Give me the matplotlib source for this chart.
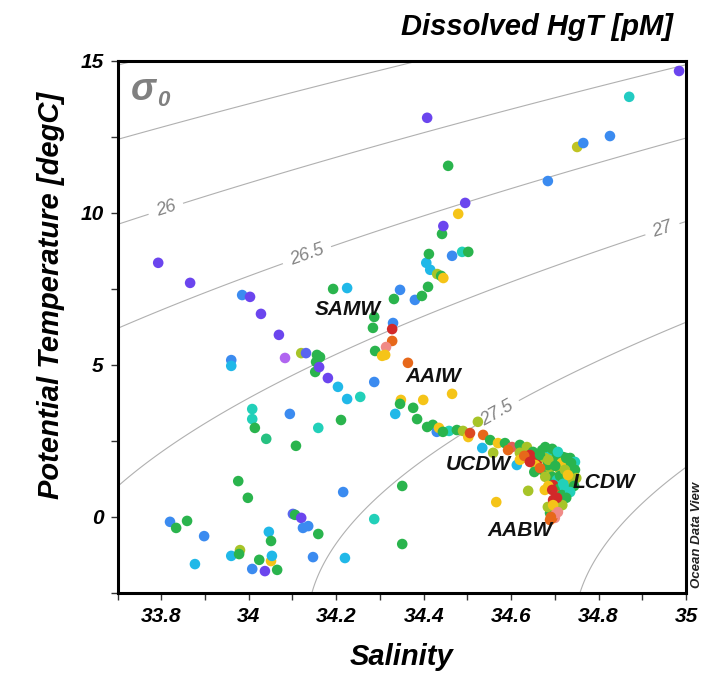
import numpy as np
import matplotlib
matplotlib.use("Agg")
import matplotlib.pyplot as plt
from matplotlib.colors import LinearSegmentedColormap
from matplotlib.ticker import MultipleLocator

plt.rcParams['font.family'] = ['Liberation Sans', 'DejaVu Sans']

# salinity, potential temperature (degC), dissolved HgT (pM)
salinity = [
    33.793, 33.866, 33.985, 34.003, 34.028, 34.069, 34.083, 34.120, 34.131, 34.156,
    34.163, 34.154, 34.152, 34.161, 34.181, 34.204, 34.225, 34.255, 34.287, 33.960,
    33.960, 34.008, 34.008, 34.014, 34.040, 34.094, 34.159, 34.108, 33.976, 33.998,
    34.216, 34.211, 34.287, 34.351, 34.351, 33.820, 33.834, 33.859, 33.898, 33.877,
    33.960, 33.980, 33.978, 34.024, 34.008, 34.037, 34.051, 34.053, 34.065, 34.046,
    34.051, 34.101, 34.106, 34.120, 34.124, 34.136, 34.159, 34.147, 34.220,
    34.193, 34.225, 34.287, 34.284, 34.330, 34.328, 34.328, 34.314, 34.289, 34.305,
    34.312, 34.364, 34.332, 34.346, 34.380, 34.396, 34.410, 34.406, 34.415, 34.431,
    34.440, 34.445, 34.412, 34.442, 34.445, 34.465, 34.488, 34.502, 34.479, 34.495,
    34.456, 34.408, 34.684, 34.751, 34.765, 34.826, 34.870, 34.984,
    34.465, 34.399, 34.348, 34.346, 34.335, 34.376, 34.385,
    34.421, 34.430, 34.435, 34.458, 34.476, 34.490, 34.502, 34.506, 34.524, 34.536,
    34.552, 34.534, 34.570, 34.559, 34.586, 34.602, 34.620, 34.636, 34.650, 34.671,
    34.689, 34.705, 34.719, 34.730, 34.739, 34.742,
    34.620, 34.636, 34.661, 34.655, 34.671, 34.689, 34.705, 34.712, 34.728, 34.694,
    34.705, 34.719, 34.730, 34.696, 34.712, 34.723, 34.705, 34.712, 34.705, 34.700,
    34.696, 34.700, 34.694, 34.689, 34.684, 34.613, 34.639, 34.566,
    34.593, 34.643, 34.677, 34.684, 34.716, 34.735, 34.746, 34.716, 34.696, 34.689,
    34.703, 34.444, 34.408, 34.620, 34.653, 34.677,
    34.678, 34.694, 34.707, 34.726, 34.737, 34.746, 34.749, 34.744, 34.735, 34.726,
    34.717, 34.630, 34.643, 34.666, 34.678, 34.685, 34.694, 34.705, 34.696, 34.707,
    34.691, 34.666, 34.685, 34.701, 34.712, 34.723, 34.719, 34.730,
]
theta = [
    8.36, 7.70, 7.30, 7.24, 6.68, 5.99, 5.23, 5.39, 5.39, 5.33,
    5.26, 5.10, 4.77, 4.93, 4.57, 4.28, 3.88, 3.95, 4.44, 5.16,
    4.97, 3.55, 3.22, 2.93, 2.57, 3.39, 2.93, 2.34, 1.18, 0.63,
    0.82, 3.19, -0.07, -0.89, 1.02, -0.16, -0.36, -0.13, -0.63, -1.55,
    -1.28, -1.09, -1.22, -1.41, -1.71, -1.78, -1.45, -1.28, -1.74, -0.49,
    -0.79, 0.10, 0.07, -0.03, -0.36, -0.30, -0.56, -1.32, -1.35,
    7.50, 7.53, 6.58, 6.22, 6.38, 6.18, 5.79, 5.59, 5.46, 5.30,
    5.33, 5.07, 7.17, 7.47, 7.14, 7.27, 7.57, 8.36, 8.13, 7.99,
    7.93, 7.86, 8.65, 9.31, 9.57, 8.59, 8.72, 8.72, 9.97, 10.33,
    11.55, 13.13, 11.05, 12.17, 12.30, 12.53, 13.82, 14.67,
    4.05, 3.85, 3.85, 3.72, 3.39, 3.59, 3.22,
    3.03, 2.80, 2.93, 2.83, 2.86, 2.83, 2.63, 2.76, 3.13, 2.70,
    2.53, 2.27, 2.43, 2.11, 2.43, 2.30, 2.37, 2.30, 2.14, 2.20,
    2.14, 2.04, 1.97, 1.78, 1.55, 1.32,
    2.11, 1.94, 1.88, 1.71, 1.55, 1.61, 1.81, 1.55, 1.55, 1.32,
    1.22, 1.28, 1.15, 1.05, 0.95, 0.95, 0.72, 0.56, 0.46, 0.30,
    0.13, -0.03, -0.03, 0.13, 0.33, 1.71, 0.86, 0.49,
    2.20, 2.04, 1.94, 1.71, 1.78, 1.94, 1.81, 0.72, 0.56, -0.10,
    0.13, 2.80, 2.96, 1.88, 1.48, 0.89,
    2.30, 2.24, 2.14, 1.94, 1.78, 1.55, 1.28, 1.02, 0.82, 0.63,
    0.39, 2.01, 1.81, 1.61, 1.32, 1.02, 0.89, 0.63, 0.39, 0.16,
    0.00, 2.04, 1.88, 1.68, 1.35, 1.55, 1.09, 1.38,
]
hgt = [
    0.50, 0.50, 0.70, 0.50, 0.50, 0.50, 0.40, 1.15, 0.60, 1.00,
    1.00, 1.00, 1.00, 0.50, 0.50, 0.80, 0.80, 0.90, 0.70, 0.70,
    0.80, 0.90, 0.90, 1.00, 0.95, 0.70, 0.90, 1.00, 1.00, 1.00,
    0.70, 1.00, 0.90, 1.00, 1.00, 0.70, 1.00, 1.00, 0.70, 0.80,
    0.80, 1.15, 1.00, 1.00, 0.70, 0.50, 1.25, 0.80, 1.00, 0.80,
    1.00, 0.60, 1.00, 0.50, 0.70, 0.70, 1.00, 0.70, 0.80,
    1.00, 0.80, 1.00, 1.00, 0.70, 1.50, 1.40, 1.60, 1.00, 1.25,
    1.25, 1.40, 1.00, 0.70, 0.70, 1.00, 1.00, 0.80, 0.80, 1.15,
    1.00, 1.25, 1.00, 1.00, 0.50, 0.70, 0.90, 1.00, 1.25, 0.50,
    1.00, 0.50, 0.70, 1.18, 0.70, 0.70, 0.88, 0.50,
    1.25, 1.25, 1.25, 1.00, 0.80, 1.00, 1.00,
    1.00, 0.70, 1.25, 0.90, 1.00, 1.15, 1.25, 1.45, 1.15, 1.40,
    1.00, 0.80, 1.25, 1.15, 1.00, 1.55, 1.00, 1.15, 1.00, 1.00,
    0.90, 1.00, 1.00, 1.00, 1.15, 1.00,
    1.15, 1.40, 1.50, 1.25, 1.00, 1.15, 1.00, 1.15, 1.25, 1.00,
    0.90, 1.00, 1.15, 1.50, 1.00, 0.90, 1.40, 1.25, 1.00, 1.25,
    1.50, 1.60, 1.40, 1.00, 1.15, 0.80, 1.15, 1.25,
    1.40, 1.50, 1.15, 1.00, 1.25, 1.00, 0.90, 1.00, 1.50, 1.40,
    1.60, 1.00, 1.00, 1.25, 1.00, 1.25,
    1.00, 1.00, 0.90, 1.00, 1.00, 1.00, 1.15, 1.00, 0.90, 1.00,
    1.15, 1.40, 1.50, 1.40, 1.15, 1.25, 1.50, 1.50, 1.25, 1.60,
    1.40, 1.00, 1.15, 1.00, 1.00, 1.15, 0.90, 1.25,
]

sigma_plain = [25.0, 25.5, 28.0]
sigma_labeled = [26.0, 26.5, 27.0, 27.5]

water_masses = ['SAMW', 'AAIW', 'UCDW', 'LCDW', 'AABW']
wm_s = [34.227, 34.422, 34.524, 34.812, 34.620]
wm_t = [6.81, 4.61, 1.74, 1.15, -0.43]


def sigma0(S, T):
    # UNESCO 1980 equation of state at surface pressure
    rw = (999.842594 + 6.793952e-2 * T - 9.095290e-3 * T**2 + 1.001685e-4 * T**3
          - 1.120083e-6 * T**4 + 6.536332e-9 * T**5)
    A = 8.24493e-1 - 4.0899e-3 * T + 7.6438e-5 * T**2 - 8.2467e-7 * T**3 + 5.3875e-9 * T**4
    B = -5.72466e-3 + 1.0227e-4 * T - 1.6546e-6 * T**2
    C = 4.8314e-4
    return rw + A * S + B * S**1.5 + C * S**2 - 1000.0


odv = LinearSegmentedColormap.from_list('odv', [
    (0.000, '#b065f0'), (0.083, '#6a45ee'), (0.167, '#5a66f0'), (0.250, '#3a8cf0'),
    (0.333, '#20b8e8'), (0.417, '#22d0b8'), (0.500, '#2ab34a'), (0.625, '#a8c428'),
    (0.708, '#f5c518'), (0.833, '#e86a1a'), (0.917, '#d22828'), (1.000, '#f08a86')])

fig = plt.figure(figsize=(7.18, 6.78), dpi=100)
ax = fig.add_axes([0.1637, 0.1254, 0.7918, 0.7847])

# density contours
sg, tg = np.meshgrid(np.linspace(33.7, 35.0, 300), np.linspace(-2.5, 15, 300))
sig = sigma0(sg, tg)
ax.contour(sg, tg, sig, levels=sigma_plain, colors='#b0b0b0', linewidths=0.8, zorder=1)
cs = ax.contour(sg, tg, sig, levels=sigma_labeled, colors='#b0b0b0', linewidths=0.8,
                zorder=1)
lab_pos = [(33.809, 10.2), (34.133, 8.62), (34.945, 9.51), (34.563, 3.52)]
txts = ax.clabel(cs, manual=lab_pos, fmt='%g', fontsize=13, colors='#858585',
                 inline=True, inline_spacing=8)
for t in txts:
    t.set_fontstyle('italic')

ax.scatter(salinity, theta, c=hgt, cmap=odv, vmin=0.4, vmax=1.6, s=58,
           edgecolors='none', zorder=3)

for name, s, t in zip(water_masses, wm_s, wm_t):
    ax.text(s, t, name, ha='center', va='center', fontsize=15, fontweight='bold',
            fontstyle='italic', color='#111111', zorder=4)

ax.text(0.024, 0.927, 'σ', transform=ax.transAxes, fontsize=27, fontweight='bold',
        fontstyle='italic', color='#808080', va='baseline', ha='left')
ax.text(0.070, 0.916, '0', transform=ax.transAxes, fontsize=16, fontweight='bold',
        fontstyle='italic', color='#808080', va='baseline', ha='left')

ax.set_xlim(33.7, 35.0)
ax.set_ylim(-2.5, 15)
ax.xaxis.set_minor_locator(MultipleLocator(0.1))
ax.yaxis.set_minor_locator(MultipleLocator(2.5))
ax.set_xticks([33.8, 34.0, 34.2, 34.4, 34.6, 34.8, 35.0])
ax.set_xticklabels(['33.8', '34', '34.2', '34.4', '34.6', '34.8', '35'])
ax.set_yticks([0, 5, 10, 15])
ax.set_yticklabels(['0', '5', '10', '15'])
ax.tick_params(which='both', direction='out', length=5, width=1, color='#333333')
ax.tick_params(which='major', labelsize=15, pad=5)
for lab in ax.get_xticklabels() + ax.get_yticklabels():
    lab.set_fontweight('bold')
    lab.set_fontstyle('italic')
for sp in ax.spines.values():
    sp.set_linewidth(2.2)

ax.set_xlabel('Salinity', fontsize=21, fontweight='bold', fontstyle='italic', labelpad=12)
ax.set_ylabel('Potential Temperature [degC]', fontsize=21, fontweight='bold',
              fontstyle='italic')
ax.yaxis.set_label_coords(-0.092, 0.56)

fig.text(0.748, 0.948, 'Dissolved HgT [pM]', ha='center', va='baseline', fontsize=21,
         fontweight='bold', fontstyle='italic')
fig.text(0.971, 0.211, 'Ocean Data View', rotation=90, ha='center', va='center',
         fontsize=9.5, fontstyle='italic', fontweight='bold', color='#222222')

fig.savefig('out.png', dpi=100)
